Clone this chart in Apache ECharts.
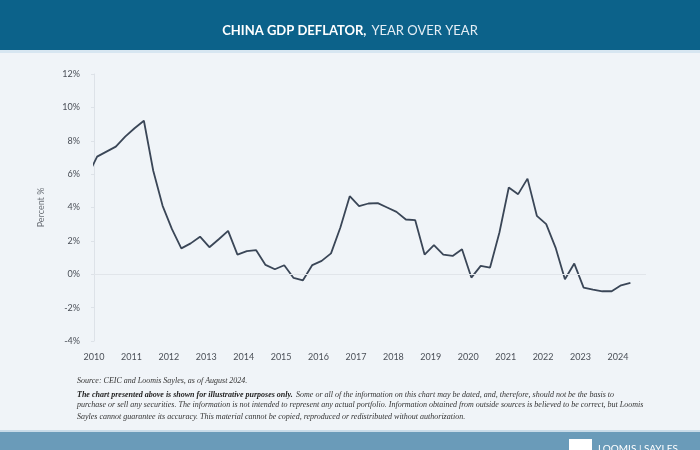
<!DOCTYPE html>
<html>
<head>
<meta charset="utf-8">
<script src="https://cdn.jsdelivr.net/npm/echarts@6/dist/echarts.min.js"></script>
<style>html,body{margin:0;padding:0;background:#f0f4f8;}#c{width:700px;height:450px;}</style>
</head>
<body>
<div id="c"></div>
<script>
// Quarterly China GDP deflator, % y/y (2009Q4 .. 2024Q2)
var quarters = ['2009Q4',
  '2010Q1','2010Q2','2010Q3','2010Q4','2011Q1','2011Q2','2011Q3','2011Q4',
  '2012Q1','2012Q2','2012Q3','2012Q4','2013Q1','2013Q2','2013Q3','2013Q4',
  '2014Q1','2014Q2','2014Q3','2014Q4','2015Q1','2015Q2','2015Q3','2015Q4',
  '2016Q1','2016Q2','2016Q3','2016Q4','2017Q1','2017Q2','2017Q3','2017Q4',
  '2018Q1','2018Q2','2018Q3','2018Q4','2019Q1','2019Q2','2019Q3','2019Q4',
  '2020Q1','2020Q2','2020Q3','2020Q4','2021Q1','2021Q2','2021Q3','2021Q4',
  '2022Q1','2022Q2','2022Q3','2022Q4','2023Q1','2023Q2','2023Q3','2023Q4',
  '2024Q1','2024Q2'];
var deflator = [5.9,
  7.05, 7.35, 7.65, 8.25,  8.75, 9.2, 6.2, 4.1,
  2.7, 1.55, 1.85, 2.25,   1.62, 2.1, 2.6, 1.18,
  1.38, 1.44, 0.56, 0.3,   0.54, -0.22, -0.36, 0.55,
  0.8, 1.25, 2.8, 4.68,    4.08, 4.24, 4.26, 4.0,
  3.74, 3.28, 3.24, 1.18,  1.74, 1.18, 1.1, 1.5,
  -0.2, 0.5, 0.4, 2.5,     5.2, 4.8, 5.73, 3.5,
  3.0, 1.6, -0.3, 0.64,    -0.8, -0.92, -1.02, -1.02,
  -0.66, -0.52];
var yearLabels = ['2010','2011','2012','2013','2014','2015','2016','2017','2018','2019','2020','2021','2022','2023','2024'];
var yTicks = [-4, -2, 0, 2, 4, 6, 8, 10, 12];

function qToTime(q) {
  var y = parseInt(q.slice(0, 4), 10);
  var n = parseInt(q.slice(5), 10);
  return y + (n - 1) / 4 + 1 / 12;
}
var seriesData = quarters.map(function (q, i) { return [qToTime(q), deflator[i]]; });

var chart = echarts.init(document.getElementById('c'), null, {renderer: 'canvas'});
var serif = '"Liberation Serif", "DejaVu Serif", serif';
var option = {
  backgroundColor: '#f0f4f8',
  animation: false,
  title: {
    text: '{b|CHINA GDP DEFLATOR,} {n|YEAR OVER YEAR}',
    left: 'center',
    top: 17,
    textStyle: {
      rich: {
        b: {fontFamily: 'Lato', fontWeight: 'bold', fontSize: 13, color: '#ffffff'},
        n: {fontFamily: 'Lato', fontWeight: 'normal', fontSize: 13, color: '#e4eef5'}
      }
    }
  },
  grid: {left: 94, right: 54, top: 74, bottom: 109},
  xAxis: {
    type: 'value',
    min: 2010,
    max: 2024.75,
    interval: 1,
    axisLine: {show: false},
    axisTick: {show: false},
    splitLine: {show: false},
    axisLabel: {
      margin: 12,
      color: '#4a4f57',
      fontFamily: 'Lato',
      fontSize: 9,
      showMaxLabel: false,
      formatter: function (v) {
        var s = String(Math.round(v));
        return (Math.abs(v - Math.round(v)) < 1e-6 && yearLabels.indexOf(s) >= 0) ? s : '';
      }
    }
  },
  yAxis: {
    type: 'value',
    min: yTicks[0],
    max: yTicks[yTicks.length - 1],
    interval: 2,
    name: 'Percent %',
    nameLocation: 'middle',
    nameGap: 48,
    nameTextStyle: {color: '#6b7077', fontFamily: 'Lato', fontSize: 9},
    axisLine: {show: true, lineStyle: {color: '#dde2e8', width: 1}},
    axisTick: {show: true, length: 3, lineStyle: {color: '#dde2e8'}},
    splitLine: {show: false},
    axisLabel: {
      margin: 14,
      color: '#4a4f57',
      fontFamily: 'Lato',
      fontSize: 9,
      formatter: function (v) { return v + '%'; }
    }
  },
  series: [{
    type: 'line',
    data: seriesData,
    showSymbol: false,
    symbol: 'none',
    clip: true,
    lineStyle: {color: '#3a4657', width: 1.8},
    markLine: {
      silent: true,
      symbol: 'none',
      label: {show: false},
      lineStyle: {color: '#e1e5ea', width: 1, type: 'solid'},
      data: [{yAxis: 0}]
    }
  }],
  graphic: [
    {type: 'rect', z: -10, shape: {x: 0, y: 0, width: 700, height: 50}, style: {fill: '#0c628a'}},
    {type: 'rect', z: -10, shape: {x: 0, y: 50, width: 700, height: 3}, style: {fill: '#d7e6f1'}},
    {type: 'rect', z: -10, shape: {x: 0, y: 430, width: 700, height: 2}, style: {fill: '#c8dbe8'}},
    {type: 'rect', z: -10, shape: {x: 0, y: 432, width: 700, height: 18}, style: {fill: '#6a9bb9'}},
    {type: 'rect', z: 5, shape: {x: 569, y: 439, width: 23, height: 12}, style: {fill: '#ffffff'}},
    {type: 'text', z: 5, left: 598, top: 444, style: {text: 'LOOMIS | SAYLES', fill: '#ffffff', font: '10px Lato'}},
    {type: 'text', left: 77, top: 377, style: {text: 'Source: CEIC and Loomis Sayles, as of August 2024.', fill: '#333', font: 'italic 8px ' + serif}},
    {type: 'text', left: 77, top: 389, style: {
      text: '{b|The chart presented above is shown for illustrative purposes only.} {n|Some or all of the information on this chart may be dated, and, therefore, should not be the basis to}',
      rich: {
        b: {fontFamily: serif, fontStyle: 'italic', fontWeight: 'bold', fontSize: 8, fill: '#222'},
        n: {fontFamily: serif, fontStyle: 'italic', fontSize: 8, fill: '#333'}
      }
    }},
    {type: 'text', left: 77, top: 401, style: {text: 'purchase or sell any securities. The information is not intended to represent any actual portfolio. Information obtained from outside sources is believed to be correct, but Loomis', fill: '#333', font: 'italic 8px ' + serif}},
    {type: 'text', left: 77, top: 413, style: {text: 'Sayles cannot guarantee its accuracy. This material cannot be copied, reproduced or redistributed without authorization.', fill: '#333', font: 'italic 8px ' + serif}}
  ]
};
chart.setOption(option);
</script>
</body>
</html>
